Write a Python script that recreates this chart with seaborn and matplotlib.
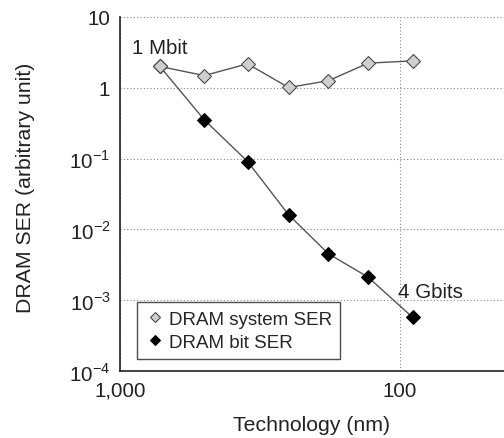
import numpy as np
import pandas as pd
import matplotlib
matplotlib.use("Agg")
import matplotlib.pyplot as plt
import seaborn as sns
from matplotlib.ticker import FixedLocator, FixedFormatter

# values
tech_nm = [720, 500, 350, 250, 180, 130, 90]
system_ser = [2.0, 1.49, 2.18, 1.01, 1.26, 2.23, 2.4]
bit_ser = [2.0, 0.353, 0.091, 0.0161, 0.00452, 0.00212, 0.00057]

df_sys = pd.DataFrame({"tech": tech_nm, "ser": system_ser})
df_bit = pd.DataFrame({"tech": tech_nm, "ser": bit_ser})

sns.set_style("white")
plt.rcParams["font.family"] = ["Liberation Sans", "DejaVu Sans"]
plt.rcParams["mathtext.fontset"] = "custom"
plt.rcParams["mathtext.rm"] = "Liberation Sans"

fig = plt.figure(figsize=(5.04, 4.39), dpi=100)
ax = fig.add_axes([0.238, 0.1526, 0.762, 0.8064])

sns.lineplot(data=df_bit, x="tech", y="ser", ax=ax, color="#555555", lw=1,
             marker="D", markersize=7.5, markerfacecolor="black",
             markeredgecolor="black", label="DRAM bit SER", zorder=3)
sns.lineplot(data=df_sys, x="tech", y="ser", ax=ax, color="#555555", lw=1,
             marker="D", markersize=7.5, markerfacecolor="#cfcfcf",
             markeredgecolor="#444444", label="DRAM system SER", zorder=4)

ax.set_xscale("log")
ax.set_yscale("log")
ax.set_xlim(1000, 42.5)
ax.set_ylim(1e-4, 10)

ax.xaxis.set_major_locator(FixedLocator([1000, 100]))
ax.xaxis.set_major_formatter(FixedFormatter(["1,000", "100"]))
ax.xaxis.set_minor_locator(FixedLocator([]))
yt = [1e-4, 1e-3, 1e-2, 1e-1, 1, 10]
ax.yaxis.set_major_locator(FixedLocator(yt))
ax.yaxis.set_major_formatter(FixedFormatter([r"$10^{-4}$", r"$10^{-3}$", r"$10^{-2}$",
                                             r"$10^{-1}$", "1", "10"]))
ax.yaxis.set_minor_locator(FixedLocator([]))

ax.grid(True, which="major", linestyle=(0, (1, 2)), color="#888888", lw=0.8)
ax.tick_params(length=0, labelsize=14.8, colors="#222222", pad=7)
for s in ["top", "right"]:
    ax.spines[s].set_visible(False)
for s in ["left", "bottom"]:
    ax.spines[s].set_color("#222222")
    ax.spines[s].set_linewidth(1.2)

ax.set_xlabel("Technology (nm)", fontsize=15.3, color="#222222", labelpad=11)
ax.set_ylabel("DRAM SER (arbitrary unit)", fontsize=15.3, color="#222222")
ax.yaxis.set_label_coords(-0.222, 0.52)

ax.text(tech_nm[0], 3.7, "1 Mbit", fontsize=14.8, color="#222222", ha="center", va="center")
ax.text(102, 1.32e-3, "4 Gbits", fontsize=14.8, color="#222222", ha="left", va="center")

handles, labels = ax.get_legend_handles_labels()
leg = ax.legend(handles[::-1], labels[::-1], loc="lower left", bbox_to_anchor=(0.044, 0.034),
                frameon=True, fancybox=False, edgecolor="#222222", fontsize=13.5,
                handlelength=1.0, handletextpad=0.25, markerscale=0.7, borderpad=0.45,
                labelspacing=0.3, borderaxespad=0)
for line in leg.get_lines():
    line.set_linestyle("")
leg.get_frame().set_linewidth(1.0)

fig.savefig("out.png", dpi=100)
